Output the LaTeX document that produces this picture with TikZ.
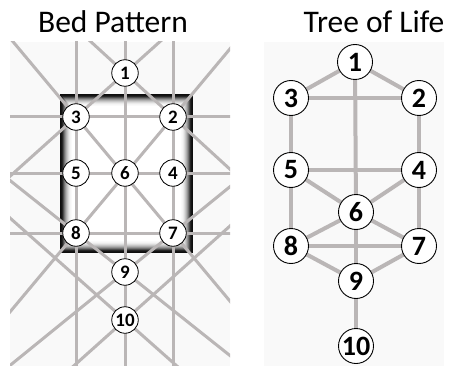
\documentclass[tikz,border=0pt]{standalone}
\usepackage{fontspec}
\setmainfont{Carlito}
\usetikzlibrary{calc}
\definecolor{ln}{RGB}{186,182,182}
\definecolor{bgc}{RGB}{249,249,249}
\pgfdeclareradialshading{nodeshade}{\pgfpoint{-6bp}{6bp}}{color(0bp)=(white); color(30bp)=(white); color(50bp)=(black!22)}
\pgfdeclarelayer{back}
\pgfdeclarelayer{mid}
\pgfsetlayers{back,mid,main}
\begin{document}
\begin{tikzpicture}[x=1pt,y=-1pt,
  smallnode/.style={circle, draw=black, line width=0.8pt, shading=nodeshade, minimum size=26.5pt, inner sep=0pt, font=\fontsize{19}{19}\selectfont\bfseries},
  bignode/.style={circle, draw=black, line width=0.9pt, shading=nodeshade, minimum size=35pt, inner sep=0pt, font=\fontsize{28}{28}\selectfont\bfseries},
  bedline/.style={ln, line width=3pt},
  treeline/.style={ln, line width=4pt},
  title/.style={anchor=base, inner sep=0pt, font=\fontsize{31.5}{31.5}\selectfont}]
\useasboundingbox (0,0) rectangle (449,366);
% titles
\node[title] (tbed) at (113,33) {Bed Pattern};
\node[title] (ttree) at (374,33) {Tree of Life};
% bed pattern nodes
\node[smallnode] (b1) at (125,73) {1};
\node[smallnode] (b3) at (76,117) {3};
\node[smallnode] (b2) at (173,117) {2};
\node[smallnode] (b5) at (76,173) {5};
\node[smallnode] (b6) at (125,173) {6};
\node[smallnode] (b4) at (173,173) {4};
\node[smallnode] (b8) at (76,233) {8};
\node[smallnode] (b7) at (173,233) {7};
\node[smallnode] (b9) at (125,272) {9};
\node[smallnode] (b10) at (125,320) {10};
\coordinate (eL) at (10,218);
\coordinate (eR) at (230,226);
% tree of life nodes
\node[bignode] (r1) at (355,62) {1};
\node[bignode] (r3) at (291,98) {3};
\node[bignode] (r2) at (419,98) {2};
\node[bignode] (r5) at (291,170) {5};
\node[bignode] (r4) at (419,170) {4};
\node[bignode] (r6) at (356,212) {6};
\node[bignode] (r8) at (291,246) {8};
\node[bignode] (r7) at (419,246) {7};
\node[bignode] (r9) at (356,281) {9};
\node[bignode] (r10) at (356,346) {10};
\begin{pgfonlayer}{back}
  \fill[white] (0,0) rectangle (449,366);
  \fill[bgc] (10,42) rectangle (230,366);
  \fill[bgc] (264,42) rectangle (444,366);
  \fill[white] (60,94) rectangle (193,253);
  \foreach \i/\c in {0/95,1/92,2/85,3/70,4/55,5/42,6/31,7/22,8/14,9/8,10/4,11/2}{
    \draw[black!\c, line width=1pt] ({60+\i+0.5},{94+\i+0.5}) rectangle ({193-\i-0.5},{253-\i-0.5});
  }
\end{pgfonlayer}
\begin{pgfonlayer}{mid}
  \begin{scope}
    \clip (10,42) rectangle (230,366);
    \foreach \a/\b in {b3/b8, b1/b10, b2/b7, b3/b2, b5/b4, b8/b7, b3/b7, b2/b8, b1/b3, b1/b2, b8/b9, b7/b9}{
      \draw[bedline] ($(\a.center)!-5!(\b.center)$) -- ($(\b.center)!-5!(\a.center)$);
    }
    \draw[bedline] ($(b10.center)!1.3!(eL)$) -- ($(eL)!3!(b10.center)$);
    \draw[bedline] ($(b10.center)!1.3!(eR)$) -- ($(eR)!3!(b10.center)$);
  \end{scope}
  \foreach \a/\b in {r1/r3, r1/r2, r3/r2, r1/r6, r6/r9, r3/r5, r2/r4, r5/r4, r5/r6, r4/r6, r6/r8, r6/r7, r8/r7, r5/r8, r4/r7, r8/r9, r7/r9, r9/r10}{
    \draw[treeline] (\a) -- (\b);
  }
\end{pgfonlayer}
\end{tikzpicture}
\end{document}
